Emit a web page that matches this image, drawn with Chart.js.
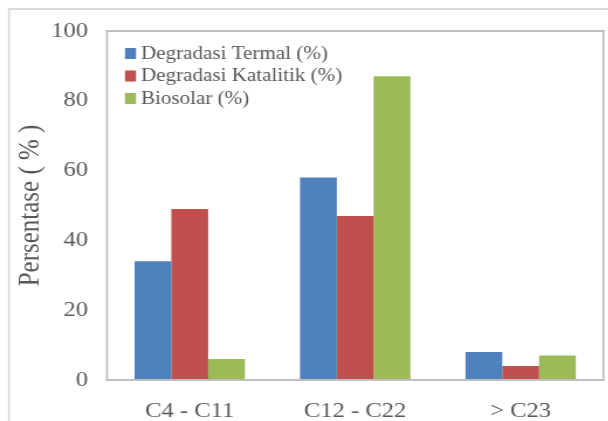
<!DOCTYPE html>
<html>
<head>
<meta charset="utf-8">
<script src="https://cdn.jsdelivr.net/npm/chart.js@4.4.0/dist/chart.umd.min.js"></script>
<style>
  html, body { margin: 0; padding: 0; background: #ffffff; overflow: hidden; }
  #wrap { width: 608px; height: 421px; overflow: hidden; }
  /* the figure uses a slightly wide aspect: draw narrow, then widen */
  #c { transform: scaleX(1.17); transform-origin: 0 0; display: block; }
</style>
</head>
<body>
<div id="wrap"><canvas id="c"></canvas></div>
<script>
// Carbon-number fractions of the products
const categories = ['C4 - C11', 'C12 - C22', '> C23'];
const termal = [34, 58, 8];
const katalitik = [49, 47, 4];
const biosolar = [6, 87, 7];
const seriesNames = ['Degradasi Termal (%)', 'Degradasi Katalitik (%)', 'Biosolar (%)'];
const yTicks = [0, 20, 40, 60, 80, 100];

const SX = 1.17;               // horizontal widening applied by CSS
const W = 520, H = 421;         // internal drawing size
const SERIF = "'Liberation Serif', 'Times New Roman', serif";
const TEXT = '#595959';

// Thin frame around the figure and a box around the plotting area
const framePlugin = {
  id: 'frame',
  beforeDraw(chart) {
    const ctx = chart.ctx;
    ctx.save();
    ctx.fillStyle = '#ffffff';
    ctx.fillRect(0, 0, chart.width, chart.height);
    ctx.fillStyle = '#d9d9d9';
    ctx.fillRect(8 / SX, 8, chart.width, 2);
    ctx.fillRect(8 / SX, 8, 2 / SX, chart.height);
    ctx.restore();
  },
  afterDatasetsDraw(chart) {
    const a = chart.chartArea;
    const ctx = chart.ctx;
    ctx.save();
    ctx.fillStyle = '#bfbfbf';
    const lw = 2, lv = 2 / SX;
    ctx.fillRect(a.left - lv / 2, a.top - lw / 2, a.right - a.left + lv, lw);
    ctx.fillRect(a.left - lv / 2, a.bottom - lw / 2, a.right - a.left + lv, lw);
    ctx.fillRect(a.left - lv / 2, a.top - lw / 2, lv, a.bottom - a.top + lw);
    ctx.fillRect(a.right - lv / 2, a.top - lw / 2, lv, a.bottom - a.top + lw);
    ctx.restore();
  }
};

// Legend stacked in the upper-left corner of the plot
const innerLegend = {
  id: 'innerLegend',
  afterDraw(chart) {
    const ctx = chart.ctx;
    const a = chart.chartArea;
    ctx.save();
    ctx.font = '18px ' + SERIF;
    ctx.textBaseline = 'middle';
    ctx.textAlign = 'left';
    chart.data.datasets.forEach((ds, i) => {
      const cy = a.top + 22 + i * 22.5;
      ctx.fillStyle = ds.backgroundColor;
      ctx.fillRect(a.left + 18 / SX, cy - 5, 11 / SX, 11);
      ctx.fillStyle = TEXT;
      ctx.fillText(ds.label, a.left + 34 / SX, cy + 1);
    });
    ctx.restore();
  }
};

const canvas = document.getElementById('c');
canvas.width = W;
canvas.height = H;

new Chart(canvas, {
  type: 'bar',
  data: {
    labels: categories,
    datasets: [
      { label: seriesNames[0], data: termal, backgroundColor: '#4f81bd' },
      { label: seriesNames[1], data: katalitik, backgroundColor: '#c0504d' },
      { label: seriesNames[2], data: biosolar, backgroundColor: '#9bbb59' }
    ]
  },
  options: {
    responsive: false,
    animation: false,
    devicePixelRatio: 1,
    layout: { padding: { top: 31, right: 5 / SX, left: 0, bottom: 0 } },
    datasets: {
      bar: { categoryPercentage: 0.667, barPercentage: 1.0, borderWidth: 0 }
    },
    plugins: {
      legend: { display: false },
      tooltip: { enabled: false }
    },
    scales: {
      x: {
        grid: { display: false, drawTicks: false },
        border: { display: false },
        ticks: { color: TEXT, font: { family: SERIF, size: 21 }, padding: 19, maxRotation: 0 },
        afterFit(s) { s.height = 41; }
      },
      y: {
        min: 0,
        max: 100,
        afterBuildTicks(s) { s.ticks = yTicks.map(v => ({ value: v })); },
        grid: { display: false, drawTicks: false },
        border: { display: false },
        ticks: { color: TEXT, font: { family: SERIF, size: 21 }, padding: 19 / SX },
        title: {
          display: true,
          text: 'Persentase ( % )',
          color: TEXT,
          font: { family: SERIF, size: 25 },
          padding: { top: 31 / SX - 15, bottom: 0 }
        },
        afterFit(s) { s.width = 107 / SX; }
      }
    }
  },
  plugins: [framePlugin, innerLegend]
});
</script>
</body>
</html>
